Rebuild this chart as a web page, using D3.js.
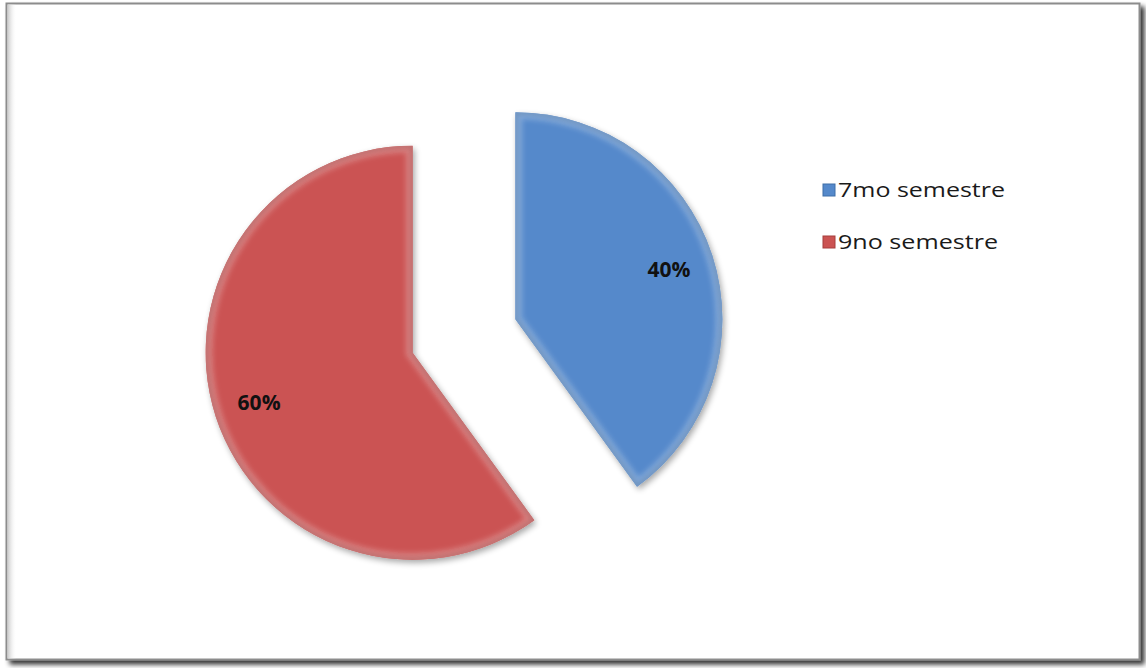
<!DOCTYPE html>
<html lang="es">
<head>
<meta charset="UTF-8">
<title>Pie - semestres</title>
<script src="https://d3js.org/d3.v7.min.js"></script>
<style>
  body { margin: 0; background: #fff; }
  svg { display: block; }
</style>
</head>
<body>
<svg id="chart" width="1146" height="668"></svg>
<script>
var categories = ["7mo semestre", "9no semestre"];
var values = [40, 60];
var labels = ["40%", "60%"];
var colors = ["#5589CB", "#CB5352"];
var edgeColors = ["#3F6FA8", "#A63E3C"];

var svg = d3.select("#chart");
var defs = svg.append("defs");

// frame shadow
var fs = defs.append("filter").attr("id", "frameShadow")
  .attr("x", "-5%").attr("y", "-5%").attr("width", "110%").attr("height", "110%");
fs.append("feGaussianBlur").attr("in", "SourceAlpha").attr("stdDeviation", 2.5).attr("result", "b");
fs.append("feOffset").attr("in", "b").attr("dx", 4).attr("dy", 4).attr("result", "o");
fs.append("feComponentTransfer").attr("in", "o").attr("result", "o2")
  .append("feFuncA").attr("type", "linear").attr("slope", 0.8);
var fm = fs.append("feMerge");
fm.append("feMergeNode").attr("in", "o2");
fm.append("feMergeNode").attr("in", "SourceGraphic");

svg.append("rect")
  .attr("x", 6.5).attr("y", 3.5).attr("width", 1133).attr("height", 656)
  .attr("fill", "#fff").attr("stroke", "#8c8c8c").attr("stroke-width", 2)
  .attr("filter", "url(#frameShadow)");

// inner left shading of the frame
var lg = defs.append("linearGradient").attr("id", "leftShade");
lg.append("stop").attr("offset", "0%").attr("stop-color", "#c8c8c8");
lg.append("stop").attr("offset", "100%").attr("stop-color", "#fff").attr("stop-opacity", 0);
svg.append("rect").attr("x", 7.5).attr("y", 4.5).attr("width", 9).attr("height", 654).attr("fill", "url(#leftShade)");

// slice shadow / bevel
var ss = defs.append("filter").attr("id", "sliceShadow")
  .attr("x", "-20%").attr("y", "-20%").attr("width", "140%").attr("height", "140%");
ss.append("feGaussianBlur").attr("in", "SourceAlpha").attr("stdDeviation", 3).attr("result", "b");
ss.append("feOffset").attr("in", "b").attr("dx", 2).attr("dy", 3).attr("result", "o");
ss.append("feComponentTransfer").attr("in", "o").attr("result", "o2")
  .append("feFuncA").attr("type", "linear").attr("slope", 0.35);
var sm = ss.append("feMerge");
sm.append("feMergeNode").attr("in", "o2");
sm.append("feMergeNode").attr("in", "SourceGraphic");

var bev = defs.append("filter").attr("id", "bevelBlur");
bev.append("feGaussianBlur").attr("stdDeviation", 2.5);

var cx = 464, cy = 336, radius = 207, explode = 54;

var pie = d3.pie().sort(null).value(function(d) { return d; });
var arcs = pie(values);
var arc = d3.arc().innerRadius(0).outerRadius(radius);
var labelArc = d3.arc().innerRadius(radius * 0.78).outerRadius(radius * 0.78);

var g = svg.append("g").attr("transform", "translate(" + cx + "," + cy + ")");

var slices = g.selectAll("g.slice").data(arcs).enter().append("g")
  .attr("class", "slice")
  .attr("transform", function(d) {
    var a = (d.startAngle + d.endAngle) / 2;
    return "translate(" + (explode * Math.sin(a)) + "," + (-explode * Math.cos(a)) + ")";
  });

slices.each(function(d, i) {
  var s = d3.select(this);
  s.append("clipPath").attr("id", "clip" + i).append("path").attr("d", arc(d));
  s.append("path").attr("d", arc(d)).attr("fill", colors[i]).attr("filter", "url(#sliceShadow)");
  var inner = s.append("g").attr("clip-path", "url(#clip" + i + ")");
  // darker rim then light bevel
  inner.append("path").attr("d", arc(d)).attr("fill", "none")
    .attr("stroke", edgeColors[i]).attr("stroke-width", 5).attr("filter", "url(#bevelBlur)");
  inner.append("path").attr("d", arc(d)).attr("fill", "none")
    .attr("stroke", "#fff").attr("stroke-opacity", 0.25).attr("stroke-width", 14)
    .attr("filter", "url(#bevelBlur)");
});

slices.append("text")
  .attr("transform", function(d) { return "translate(" + labelArc.centroid(d) + ")"; })
  .attr("text-anchor", "middle")
  .attr("dy", "0.36em")
  .attr("font-family", "'Open Sans', 'DejaVu Sans', sans-serif")
  .attr("font-weight", "bold")
  .attr("font-size", 21)
  .attr("fill", "#111")
  .text(function(d, i) { return labels[i]; });

// legend
var legend = svg.append("g").attr("transform", "translate(823,184)");
var items = legend.selectAll("g").data(categories).enter().append("g")
  .attr("transform", function(d, i) { return "translate(0," + (i * 52) + ")"; });
items.append("rect").attr("width", 12).attr("height", 12)
  .attr("fill", function(d, i) { return colors[i]; })
  .attr("stroke", function(d, i) { return edgeColors[i]; }).attr("stroke-width", 1);
items.append("text")
  .attr("x", 15).attr("y", 13)
  .attr("font-family", "'Open Sans', 'DejaVu Sans', sans-serif")
  .attr("font-size", 20)
  .attr("fill", "#1a1a1a")
  .attr("textLength", function(d, i) { return i === 0 ? 167 : 160; })
  .attr("lengthAdjust", "spacingAndGlyphs")
  .text(function(d) { return d; });
</script>
</body>
</html>
